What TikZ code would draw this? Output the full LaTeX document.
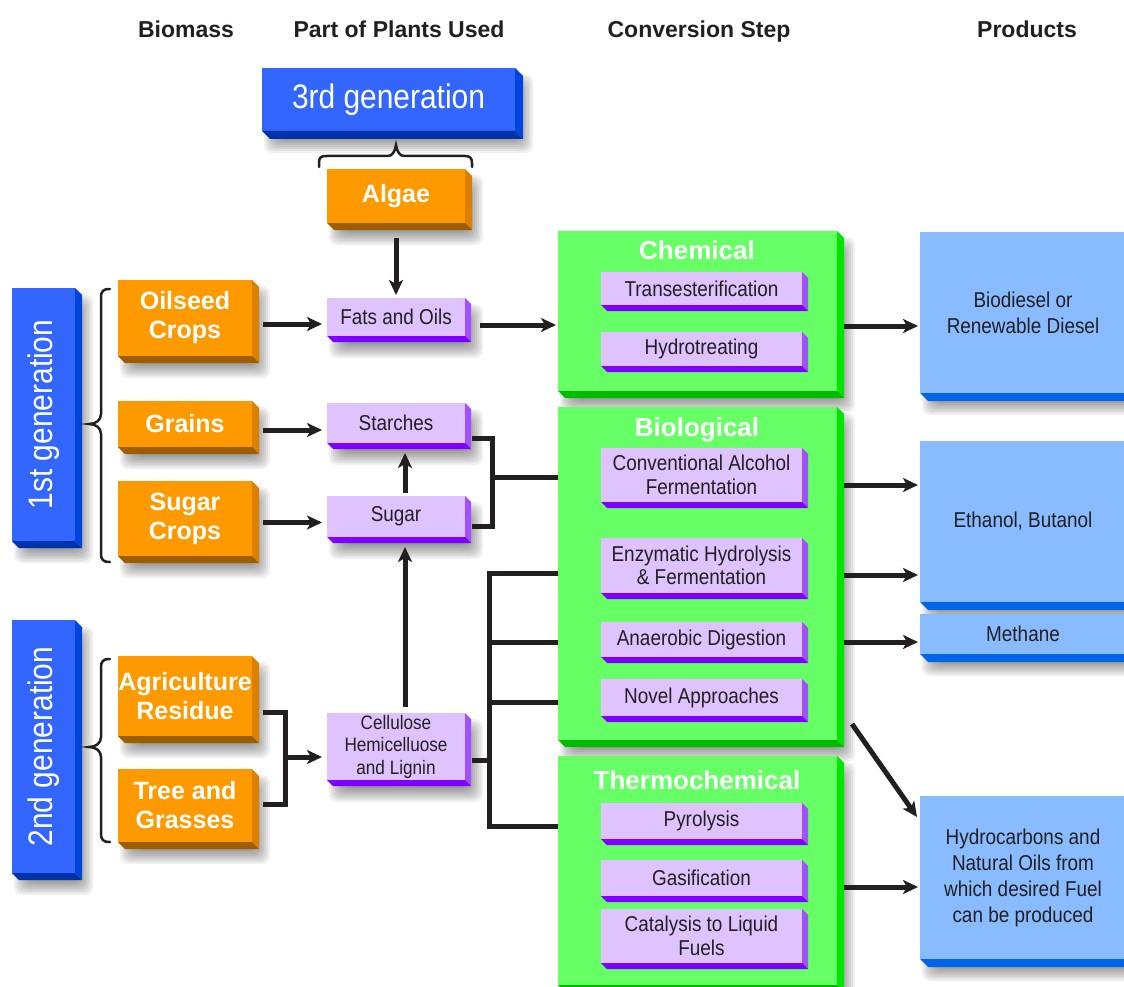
\documentclass[tikz,border=0pt]{standalone}
\usepackage{fontspec}
\setmainfont{Liberation Sans}
\newfontfamily\cond[FakeStretch=0.88]{Liberation Sans}
\usetikzlibrary{arrows.meta,calc}
\definecolor{ink}{HTML}{231F20}
\definecolor{genF}{HTML}{3366FF}\definecolor{genS}{HTML}{0046DE}\definecolor{genB}{HTML}{0033AA}
\definecolor{orF}{HTML}{FF9900}\definecolor{orS}{HTML}{DD8000}\definecolor{orB}{HTML}{9E5E00}
\definecolor{puF}{HTML}{DEC3FF}\definecolor{puS}{HTML}{A050FF}\definecolor{puB}{HTML}{8000FF}
\definecolor{grF}{HTML}{66FF66}\definecolor{grS}{HTML}{00E600}\definecolor{grB}{HTML}{00BB00}
\definecolor{prF}{HTML}{88BBFF}\definecolor{prS}{HTML}{0066E6}\definecolor{prB}{HTML}{0066E6}
% soft drop shadow: x0 y0 x1 y1
\newcommand\mkshadow[4]{%
  \foreach \e in {-10,-8,...,8}{%
    \fill[black, opacity=0.06, rounded corners=8pt]
      ({#1+10-\e},{#2+14-\e}) rectangle ({#3+10+\e},{#4+14+\e});}%
}
% box without shadow: style name x0 y0 x1 y1 depth text
\newcommand\mkboxns[8]{%
  \node[#1, minimum width={#5-#3}, minimum height={#6-#4}] (#2) at ({(#3+#5)/2},{(#4+#6)/2}) {#8};
  \fill[#1 side] (#2.north east) -- ++(#7,#7) -- ++(0,{#6-#4}) -- (#2.south east) -- cycle;
  \fill[#1 bottom] (#2.south west) -- ++(#7,#7) -- ++({#5-#3},0) -- (#2.south east) -- cycle;
}
\newcommand\mkbox[8]{\mkshadow{#3}{#4}{#5}{#6}\mkboxns{#1}{#2}{#3}{#4}{#5}{#6}{#7}{#8}}
\tikzset{
  base/.style={inner sep=0pt, outer sep=0pt, align=center},
  gen/.style={base, fill=genF, text=white, font=\cond\fontsize{34}{40}\selectfont},
  gen side/.style={fill=genS}, gen bottom/.style={fill=genB},
  obx/.style={base, fill=orF, text=white, font=\bfseries\fontsize{25}{29}\selectfont},
  obx side/.style={fill=orS}, obx bottom/.style={fill=orB},
  pbx/.style={base, fill=puF, text=ink, font=\cond\fontsize{21.5}{23.5}\selectfont},
  pbx side/.style={fill=puS}, pbx bottom/.style={fill=puB},
  cbx/.style={pbx, font=\cond\fontsize{19.5}{22.5}\selectfont},
  cbx side/.style={pbx side}, cbx bottom/.style={pbx bottom},
  gbx/.style={base, fill=grF},
  gbx side/.style={fill=grS}, gbx bottom/.style={fill=grB},
  rbx/.style={base, fill=prF, text=ink, font=\cond\fontsize{21.5}{26}\selectfont},
  rbx side/.style={fill=prS}, rbx bottom/.style={fill=prB},
  hdr/.style={text=ink, anchor=base, font=\bfseries\fontsize{23}{26}\selectfont},
  gtitle/.style={text=white, anchor=base, font=\bfseries\fontsize{26}{30}\selectfont},
  line/.style={draw=ink, line width=5pt},
  arr/.style={line, -{Stealth[length=15pt,width=14pt,inset=4pt]}},
  brc/.style={draw=ink, line width=2.5pt, line cap=round}
}
\begin{document}
\begin{tikzpicture}[x=1pt,y=-1pt]
\clip (0,0) rectangle (1124,987);
\fill[white] (0,0) rectangle (1124,987);
% headers
\node[hdr] (hbio) at (186,38) {Biomass};
\node[hdr] (hpart) at (399,38) {Part of Plants Used};
\node[hdr] (hconv) at (699,38) {Conversion Step};
\node[hdr] (hprod) at (1027,38) {Products};
% generation boxes
\mkbox{gen}{g3}{262}{68}{515}{131}{8}{3rd generation}
\mkbox{gen}{g1}{12}{288}{75}{541}{7}{\rotatebox{90}{1st generation}}
\mkbox{gen}{g2}{12}{620}{75}{873}{7}{\rotatebox{90}{2nd generation}}
% biomass
\mkbox{obx}{algae}{327}{169}{465}{223}{7}{Algae}
\mkbox{obx}{oil}{118}{280}{252}{356}{7}{Oilseed\\Crops}
\mkbox{obx}{grains}{118}{401}{252}{447}{7}{Grains}
\mkbox{obx}{sugc}{118}{481}{252}{556}{7}{Sugar\\Crops}
\mkbox{obx}{agri}{118}{656}{252}{736}{7}{Agriculture\\Residue}
\mkbox{obx}{tree}{118}{769}{252}{842}{7}{Tree and\\Grasses}
% parts
\mkbox{pbx}{fats}{327}{298}{465}{336}{6}{Fats and Oils}
\mkbox{pbx}{starch}{327}{403}{465}{443}{6}{Starches}
\mkbox{pbx}{sugar}{327}{496}{465}{537}{6}{Sugar}
\mkbox{cbx}{cell}{327}{713}{465}{780}{6}{Cellulose\\Hemicelluose\\and Lignin}
% conversion groups
\mkbox{gbx}{chem}{558}{231}{837}{391}{7}{}
\node[gtitle] (chemT) at (697,259) {Chemical};
\mkbox{gbx}{bio}{558}{407}{837}{740}{7}{}
\node[gtitle] (bioT) at (697,436) {Biological};
\mkbox{gbx}{thermo}{558}{756}{837}{985}{7}{}
\node[gtitle] (thermoT) at (697,789) {Thermochemical};
\mkboxns{pbx}{trans}{601}{272}{802}{305}{6}{Transesterification}
\mkboxns{pbx}{hydro}{601}{332}{802}{366}{6}{Hydrotreating}
\mkboxns{pbx}{conv}{601}{448}{802}{502}{6}{Conventional Alcohol\\Fermentation}
\mkboxns{pbx}{enz}{601}{538}{802}{593}{6}{Enzymatic Hydrolysis\\\& Fermentation}
\mkboxns{pbx}{anae}{601}{622}{802}{657}{6}{Anaerobic Digestion}
\mkboxns{pbx}{novel}{601}{679}{802}{716}{6}{Novel Approaches}
\mkboxns{pbx}{pyro}{601}{803}{802}{839}{6}{Pyrolysis}
\mkboxns{pbx}{gasi}{601}{860}{802}{896}{6}{Gasification}
\mkboxns{pbx}{cata}{601}{909}{802}{963}{6}{Catalysis to Liquid\\Fuels}
% products
\mkbox{rbx}{biod}{920}{232}{1126}{393}{8}{Biodiesel or\\Renewable Diesel}
\mkbox{rbx}{eth}{920}{441}{1126}{602}{8}{Ethanol, Butanol}
\mkbox{rbx}{meth}{920}{614}{1126}{654}{8}{Methane}
\mkbox{rbx}{hydc}{920}{796}{1126}{959}{8}{Hydrocarbons and\\Natural Oils from\\which desired Fuel\\can be produced}
% connectors: biomass -> parts
\draw[arr] ([yshift=-15pt]algae.south) -- ([yshift=3pt]fats.north);
\draw[arr,shorten >=5pt] ([xshift=11pt,yshift=-6pt]oil.east) -- ([yshift=-6pt]oil.east -| fats.west);
\draw[arr,shorten >=5pt] ([xshift=11pt,yshift=-6pt]grains.east) -- ([yshift=-6pt]grains.east -| starch.west);
\draw[arr,shorten >=5pt] ([xshift=11pt,yshift=-4pt]sugc.east) -- ([yshift=-4pt]sugc.east -| sugar.west);
\draw[arr,shorten <=3pt,shorten >=10pt] ([xshift=9pt]sugar.north) -- ([xshift=9pt]starch.south);
\draw[arr,shorten <=6pt,shorten >=10pt] ([xshift=9pt]cell.north) -- ([xshift=9pt]sugar.south);
\coordinate (jA) at (285,757);
\draw[line] ([xshift=11pt,yshift=-16pt]agri.east) -| (jA) |- ([xshift=11pt,yshift=1pt]tree.east);
\draw[arr,shorten >=5pt] (jA) -- (jA -| cell.west);
% parts -> conversion
\draw[arr,shorten >=2pt] ([xshift=15pt,yshift=-8pt]fats.east) -- ([yshift=-8pt]fats.east -| chem.west);
\coordinate (jB) at (492,477);
\draw[line] ([xshift=7pt,yshift=-15pt]starch.east) -| (jB) |- ([xshift=7pt,yshift=-10pt]sugar.east);
\draw[line] (jB) -- (jB -| bio.west);
\coordinate (jC) at (489,760);
\draw[line] ([xshift=7pt,yshift=-13.5pt]cell.east) -- (jC);
\draw[line] ([yshift=-7.5pt]enz.west -| bio.west) -| (jC) |- ([yshift=-5pt]pyro.west -| thermo.west);
\draw[line] ([yshift=-2.5pt]anae.west -| bio.west) -- ([yshift=-2.5pt]anae.west -| jC);
\draw[line] ([yshift=-4.5pt]novel.west -| bio.west) -- ([yshift=-4.5pt]novel.west -| jC);
% conversion -> products
\draw[arr,shorten >=2pt] ([xshift=7pt,yshift=-15pt]chem.east) -- ([yshift=-15pt]chem.east -| biod.west);
\draw[arr,shorten >=2pt] ([xshift=7pt,yshift=-10pt]conv.east -| bio.east) -- ([yshift=-10pt]conv.east -| eth.west);
\draw[arr,shorten >=2pt] ([xshift=7pt,yshift=-9.5pt]enz.east -| bio.east) -- ([yshift=-9.5pt]enz.east -| eth.west);
\draw[arr,shorten >=2pt] ([xshift=7pt,yshift=-2.5pt]anae.east -| bio.east) -- ([yshift=-2.5pt]anae.east -| meth.west);
\draw[arr] ([xshift=15pt,yshift=16pt]bio.south east) -- ([xshift=-3pt,yshift=-21pt]hydc.north west);
\draw[arr,shorten >=2pt] ([xshift=7pt,yshift=-9pt]gasi.east -| thermo.east) -- ([yshift=-9pt]gasi.east -| hydc.west);
% braces
\draw[brc] (319,167) -- (319,163) .. controls (319,157) and (321,156) .. (327,156) -- (388,156) .. controls (392,156) and (395,152) .. (396,145) .. controls (397,152) and (400,156) .. (404,156) -- (465,156) .. controls (470,156) and (472,158) .. (472,163) -- (472,167);
\draw[brc] (110,289) .. controls (103,289) and (101,291) .. (101,298) -- (101,414) .. controls (101,420) and (96,424) .. (89,424) .. controls (96,424) and (101,428) .. (101,434) -- (101,553) .. controls (101,560) and (103,562) .. (110,562);
\draw[brc] (110,659) .. controls (103,659) and (101,661) .. (101,668) -- (101,737) .. controls (101,743) and (96,747) .. (89,747) .. controls (96,747) and (101,751) .. (101,757) -- (101,833) .. controls (101,840) and (103,842) .. (110,842);
\end{tikzpicture}
\end{document}
